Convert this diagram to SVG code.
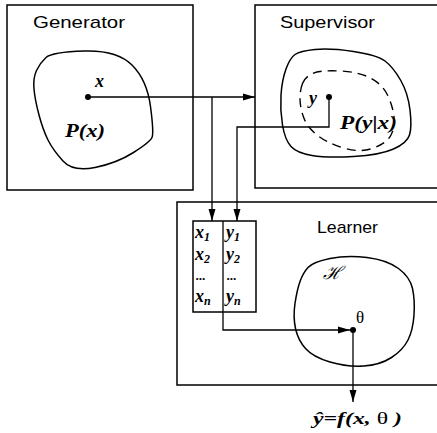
<svg xmlns="http://www.w3.org/2000/svg" width="437" height="433" viewBox="0 0 437 433">
<defs>
<marker id="ah" markerUnits="userSpaceOnUse" markerWidth="13" markerHeight="8" refX="12" refY="4" orient="auto">
<path d="M0,0.5 L12,4 L0,7.5 z" fill="#000"/>
</marker>
<style>
.box{fill:none;stroke:#000;stroke-width:1.5}
.blob{fill:none;stroke:#000;stroke-width:1.5;stroke-linejoin:round}
.dash{fill:none;stroke:#000;stroke-width:1.4;stroke-dasharray:9 6}
.ln{fill:none;stroke:#000;stroke-width:1.3}
.lbl{font-family:"Liberation Sans",Arial,sans-serif;font-size:17px;fill:#000}
.m{font-family:"Liberation Serif","Times New Roman",serif;font-style:italic;font-weight:bold;fill:#000}
.sub{font-size:12px}
.dot{fill:#000}
</style>
</defs>
<rect width="437" height="433" fill="#fff"/>

<g id="generator">
<rect class="box" x="7" y="5" width="186" height="185"/>
<text class="lbl" x="33" y="28" textLength="92" lengthAdjust="spacingAndGlyphs">Generator</text>
<path class="blob" d="M46,57.5 Q52,52 84.5,51 Q117,50 132,65 Q147,80 150.5,106.5 Q154,133 152,137.5 Q150,142 133.5,152.5 Q117,163 95,167.5 Q73,172 63,161 Q53,150 48,140 Q43,130 39,115 Q35,100 34,89 Q33,78 36.5,70.5 Q40,63 46,57.5 z"/>
<circle class="dot" cx="88" cy="97" r="3"/>
<text class="m" x="95" y="87" font-size="18">x</text>
<text class="m" x="65" y="137" font-size="18" textLength="40" lengthAdjust="spacingAndGlyphs">P(x)</text>
</g>

<g id="supervisor">
<rect class="box" x="255" y="5" width="200" height="183"/>
<text class="lbl" x="280" y="28" textLength="95" lengthAdjust="spacingAndGlyphs">Supervisor</text>
<path class="blob" d="M286,69 Q290,58 295,54.5 Q300,51 315,49.5 Q330,48 353.5,51.5 Q377,55 385,61 Q393,67 400.5,80 Q408,93 410,110 Q412,127 409.5,135 Q407,143 393.5,149 Q380,155 353.5,156.5 Q327,158 312,155.5 Q297,153 291,146.5 Q285,140 282.5,125 Q280,110 281,95 Q282,80 286,69 z"/>
<path class="dash" d="M302.5,83.5 Q305,77 312.5,73.5 Q320,70 340,71 Q360,72 371.5,78.5 Q383,85 388,96 Q393,107 394,117 Q395,127 391,135 Q387,143 373.5,148 Q360,153 343.5,148 Q327,143 317,135 Q307,127 303.5,117 Q300,107 300,98.5 Q300,90 302.5,83.5 z"/>
<circle class="dot" cx="329" cy="97" r="3"/>
<text class="m" x="309" y="104" font-size="18">y</text>
<text class="m" x="340" y="129" font-size="18" textLength="57" lengthAdjust="spacingAndGlyphs">P(y|x)</text>
</g>

<g id="learner">
<rect class="box" x="177" y="202" width="300" height="183"/>
<text class="lbl" x="317" y="233" textLength="61" lengthAdjust="spacingAndGlyphs">Learner</text>
<path class="blob" d="M330,258.5 Q347,255 367,257.5 Q387,260 398.5,268.5 Q410,277 412.5,288.5 Q415,300 414,315 Q413,330 408,340 Q403,350 391.5,357.5 Q380,365 363.5,366 Q347,367 330,362 Q313,357 305.5,348.5 Q298,340 295.5,328.5 Q293,317 295,303.5 Q297,290 300,281.5 Q303,273 308,267.5 Q313,262 330,258.5 z"/>
<text x="323" y="279" font-family="'DejaVu Serif',serif" font-style="italic" font-size="18" fill="#000">ℋ</text>
<circle class="dot" cx="353" cy="330" r="3"/>
<text x="356" y="323" font-family="'Liberation Serif',serif" font-size="17" fill="#000">θ</text>
</g>

<g id="dataset">
<rect class="box" x="193" y="221" width="63" height="91"/>
<line class="ln" x1="223" y1="221" x2="223" y2="312"/>
<text class="m" x="195" y="238" font-size="18">x<tspan class="sub" dy="3">1</tspan></text>
<text class="m" x="195" y="260" font-size="18">x<tspan class="sub" dy="3">2</tspan></text>
<text class="m" x="196" y="280" font-size="13">...</text>
<text class="m" x="195" y="302" font-size="18">x<tspan class="sub" dy="3">n</tspan></text>
<text class="m" x="226" y="238" font-size="18">y<tspan class="sub" dy="3">1</tspan></text>
<text class="m" x="226" y="260" font-size="18">y<tspan class="sub" dy="3">2</tspan></text>
<text class="m" x="227" y="280" font-size="13">...</text>
<text class="m" x="226" y="302" font-size="18">y<tspan class="sub" dy="3">n</tspan></text>
</g>

<g id="output">
<text class="m" x="313" y="424" font-size="17" textLength="89" lengthAdjust="spacingAndGlyphs">ŷ=f(x, <tspan font-style="normal" font-weight="normal">θ</tspan> )</text>
</g>

<g id="connectors">
<path class="ln" d="M88,97 H255" marker-end="url(#ah)"/>
<path class="ln" d="M212,97 V221" marker-end="url(#ah)"/>
<path class="ln" d="M329,97 V127 H237 V221" marker-end="url(#ah)"/>
<path class="ln" d="M223,312 V330 H350" marker-end="url(#ah)"/>
<path class="ln" d="M353,330 V402" marker-end="url(#ah)"/>
</g>
</svg>
